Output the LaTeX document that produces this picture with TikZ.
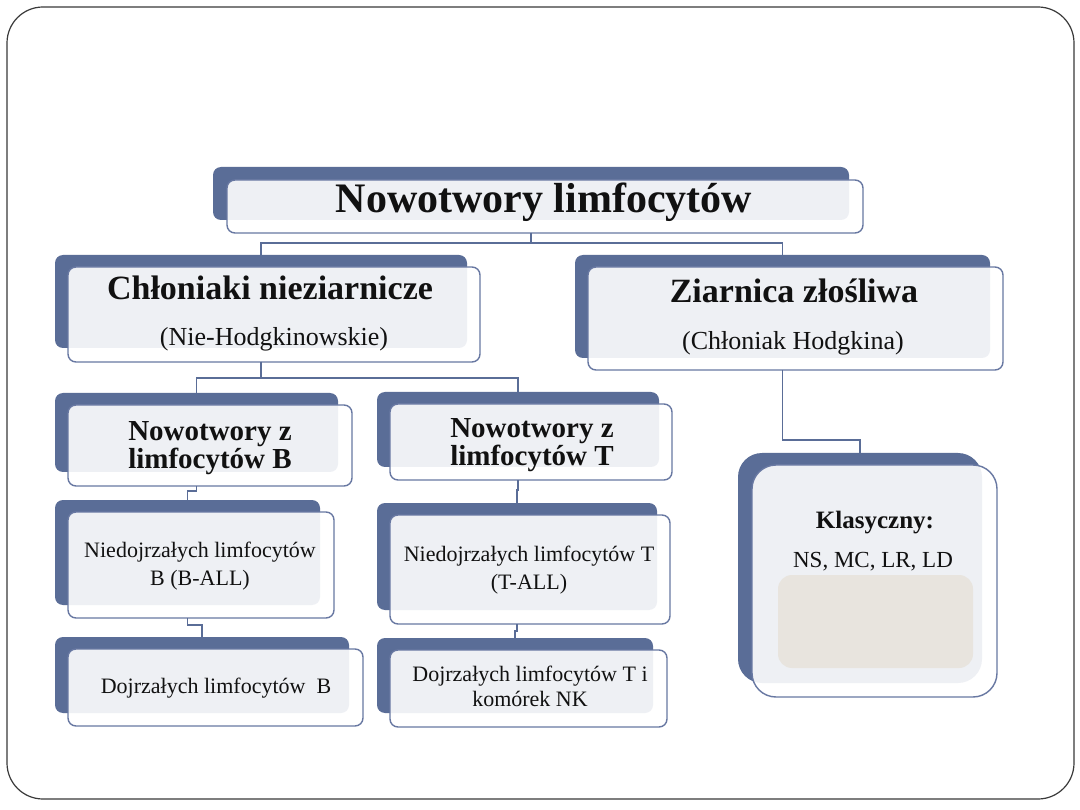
\documentclass[tikz,border=0pt]{standalone}
\usepackage{fontspec}
\setmainfont{Liberation Serif}
\usepackage{tikz}
\usetikzlibrary{calc,positioning}
\definecolor{ink}{HTML}{111111}
\definecolor{slate}{HTML}{5A6D97}
\definecolor{slateline}{HTML}{6878A2}
\definecolor{paper}{HTML}{E8E4DE}
\definecolor{framegray}{HTML}{3A3A3A}

\begin{document}
\begin{tikzpicture}[x=1pt,y=-1pt,
  backbox/.style={fill=slate,rounded corners=8,inner sep=0,outer sep=0},
  frontbox/.style={draw=slateline,line width=1.4pt,fill=white,fill opacity=0.9,rounded corners=8,inner sep=0,outer sep=0},
  link/.style={draw=slate,line width=1.3pt},
  toptxt/.style={anchor=base,text=ink,font=\fontsize{42}{48}\selectfont\bfseries},
  headtxt/.style={anchor=base,text=ink,font=\fontsize{34}{40}\selectfont\bfseries},
  subtxt/.style={anchor=base,text=ink,font=\fontsize{26}{30}\selectfont},
  leveltxt/.style={anchor=base,text=ink,align=center,font=\fontsize{29}{28}\selectfont\bfseries},
  leaftxt/.style={anchor=base,text=ink,align=center,font=\fontsize{22}{28}\selectfont}]
  \fill[white] (0,0) rectangle (1080,810);
  \useasboundingbox (0,0) rectangle (1080,810);
  % slide frame
  \draw[framegray,line width=1.2pt,rounded corners=36] (7,7) rectangle (1074,799);

  % top level
  \node[backbox,minimum width=636,minimum height=53] (titleBk) at (531,193.5) {};
  \node[frontbox,minimum width=636,minimum height=53] (title) at (545,206.5) {};
  \node[toptxt] (titleT) at (544,213) {Nowotwory limfocytów};

  % second level
  \node[backbox,minimum width=412,minimum height=93] (chlBk) at (261,301.5) {};
  \node[frontbox,minimum width=412,minimum height=95] (chl) at (274,314.5) {};
  \node[headtxt] (chlT) at (270,300) {Chłoniaki nieziarnicze};
  \node[subtxt] (chlS) at (274,346) {(Nie-Hodgkinowskie)};

  \node[backbox,minimum width=415,minimum height=103] (ziaBk) at (782.5,306.5) {};
  \node[frontbox,minimum width=415,minimum height=103] (zia) at (795.5,318.5) {};
  \node[headtxt] (ziaT) at (794,303) {Ziarnica złośliwa};
  \node[subtxt] (ziaS) at (793,350) {(Chłoniak Hodgkina)};

  % third level
  \node[backbox,minimum width=283,minimum height=79] (nowBBk) at (196.5,432.5) {};
  \node[frontbox,minimum width=284,minimum height=81] (nowB) at (210,445.5) {};
  \node[leveltxt] (nowBT) at (210,468) {Nowotwory z\\limfocytów B};

  \node[backbox,minimum width=282,minimum height=75] (nowTBk) at (518,429.5) {};
  \node[frontbox,minimum width=282,minimum height=76] (nowT) at (531,442) {};
  \node[leveltxt] (nowTT) at (532,465) {Nowotwory z\\limfocytów T};

  \node[backbox,minimum width=244,minimum height=230,rounded corners=24] (klBk) at (860,568) {};
  \node[frontbox,minimum width=245,minimum height=232,rounded corners=24] (kl) at (874.5,581) {};
  \node[anchor=base,text=ink,font=\fontsize{25}{30}\selectfont\bfseries] (klT) at (875,528) {Klasyczny:};
  \node[anchor=base,text=ink,font=\fontsize{23}{28}\selectfont] (klS) at (873,567) {NS, MC, LR, LD};
  \node[fill=paper,rounded corners=14,inner sep=0,minimum width=195,minimum height=93] (klIn) at (875.5,621.5) {};

  % fourth level
  \node[backbox,minimum width=265,minimum height=105] (nieBBk) at (187.5,552.5) {};
  \node[frontbox,minimum width=266,minimum height=106] (nieB) at (201,565) {};
  \node[leaftxt] (nieBT) at (200,585) {Niedojrzałych limfocytów\\B (B-ALL)};

  \node[backbox,minimum width=280,minimum height=107] (nieTBk) at (517,556.5) {};
  \node[frontbox,minimum width=280,minimum height=109] (nieT) at (530,569.5) {};
  \node[leaftxt] (nieTT) at (529,589) {Niedojrzałych limfocytów T\\(T-ALL)};

  \node[backbox,minimum width=294,minimum height=76] (dojBBk) at (202,675) {};
  \node[frontbox,minimum width=295,minimum height=77] (dojB) at (215.5,687.5) {};
  \node[leaftxt] (dojBT) at (216,693) {Dojrzałych limfocytów\ \ B};

  \node[backbox,minimum width=276,minimum height=75] (dojTBk) at (515,675.5) {};
  \node[frontbox,minimum width=277,minimum height=77] (dojT) at (528.5,688.5) {};
  \node[leaftxt] (dojTT) at (530,706) {Dojrzałych limfocytów T i\\[-3pt]komórek NK};

  % connectors
  \draw[link] (titleBk.center |- title.south) -- ++(0,10) -| (chlBk.north);
  \draw[link] (titleBk.center |- title.south) -- ++(0,10) -| (ziaBk.north);
  \draw[link] (chlBk.center |- chl.south) -- ++(0,16) -| (nowBBk.north);
  \draw[link] (chlBk.center |- chl.south) -- ++(0,16) -| (nowTBk.north);
  \draw[link] (ziaBk.center |- zia.south) -- ++(0,70) -| (klBk.north);
  \draw[link] (nowBBk.center |- nowB.south) -- ++(0,5) -| (nieBBk.north);
  \draw[link] (nowTBk.center |- nowT.south) -- ++(0,10) -| (nieTBk.north);
  \draw[link] (nieBBk.center |- nieB.south) -- ++(0,7) -| (dojBBk.north);
  \draw[link] (nieTBk.center |- nieT.south) -- ++(0,7) -| (dojTBk.north);
\end{tikzpicture}
\end{document}
